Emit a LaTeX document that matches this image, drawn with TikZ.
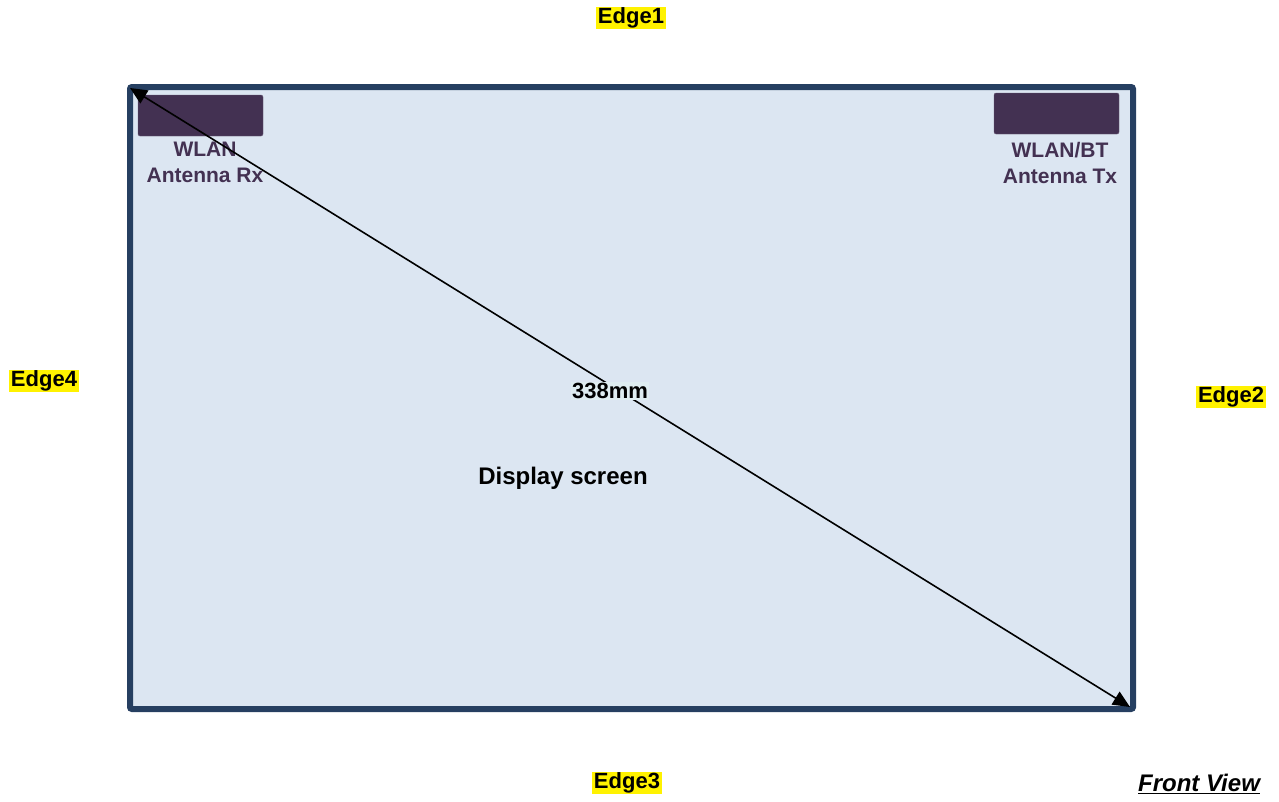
\documentclass[tikz,border=0pt]{standalone}
\usepackage{fontspec}
\setmainfont{Liberation Sans}
\usepackage{tikz}
\usetikzlibrary{arrows.meta}
\definecolor{screenfill}{HTML}{DCE6F2}
\definecolor{framecol}{HTML}{263F61}
\definecolor{antcol}{HTML}{433152}
\definecolor{dimbg}{HTML}{DFEDF1}

\begin{document}
\begin{tikzpicture}[x=1pt,y=-1pt,
	edgelabel/.style={fill=yellow, inner xsep=2pt, inner ysep=1pt, font=\fontsize{22}{25}\selectfont\bfseries},
	antenna/.style={fill=antcol, draw=antcol!80, rounded corners=2pt, minimum width=125pt, minimum height=41pt, inner sep=0pt},
	antlabel/.style={align=center, text=antcol, font=\fontsize{21}{26}\selectfont\bfseries}]
	\useasboundingbox (0,0) rectangle (1279,801);

	% display frame
	\draw[line width=6pt, draw=framecol, fill=screenfill, rounded corners=2pt] (130,87) rectangle (1133,709);

	% antennas
	\node[antenna] (antrx) at (200.5,115.5) {};
	\node[antlabel, anchor=north] (rxtext) at (205,139) {WLAN\\Antenna Rx};
	\node[antenna] (anttx) at (1056.5,113.5) {};
	\node[antlabel, anchor=north] (txtext) at (1060,139) {WLAN/BT\\Antenna Tx};

	% diagonal
	\coordinate (tl) at (130,88);
	\coordinate (br) at (1130,707);
	\draw[<->,>={Triangle[length=17pt,width=15pt]}, line width=1.6pt] (tl) -- node[pos=0.48, yshift=-6pt, fill=dimbg, inner sep=1pt, font=\fontsize{22}{25}\selectfont\bfseries] (diag) {338mm} (br);

	\node[font=\fontsize{24}{27}\selectfont\bfseries] (screen) at (563,478) {Display screen};

	% edges
	\node[edgelabel] (e1) at (631,18) {Edge1};
	\node[edgelabel] (e2) at (1231,397) {Edge2};
	\node[edgelabel] (e3) at (627,783) {Edge3};
	\node[edgelabel] (e4) at (44,381) {Edge4};

	\node[font=\fontsize{24}{27}\selectfont\bfseries\itshape] (front) at (1199,784) {\underline{Front View}};
\end{tikzpicture}
\end{document}
